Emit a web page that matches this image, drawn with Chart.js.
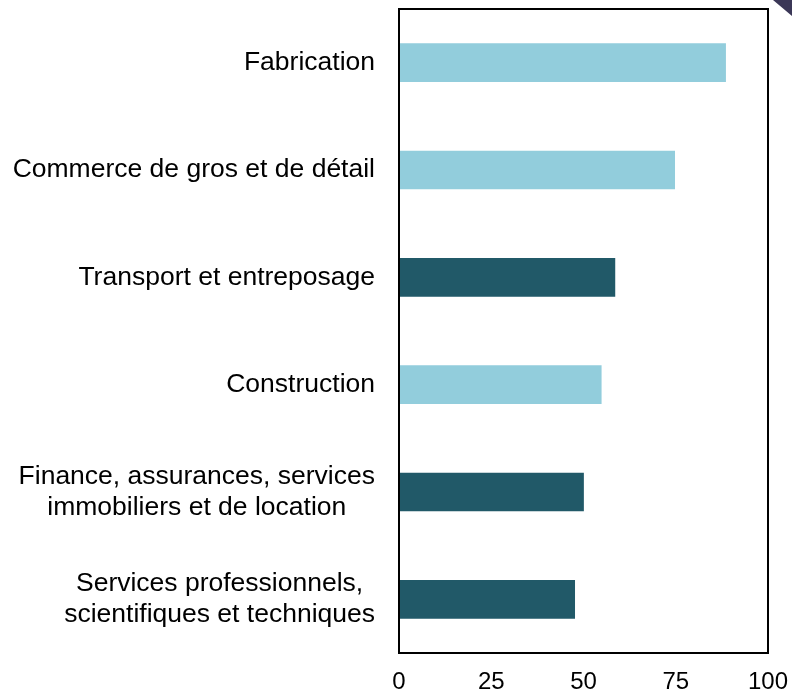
<!DOCTYPE html>
<html>
<head>
<meta charset="utf-8">
<script src="https://cdn.jsdelivr.net/npm/chart.js@4.4.1/dist/chart.umd.min.js"></script>
<style>
  html, body { margin: 0; padding: 0; background: #fff; }
  #wrap { position: relative; width: 792px; height: 692px; }
  #corner {
    position: absolute; right: 0; top: 0; width: 19px; height: 16px;
    background: #3b3757; clip-path: polygon(0 0, 100% 0, 100% 100%);
  }
</style>
</head>
<body>
<div id="wrap">
  <canvas id="sectorChart"></canvas>
  <div id="corner"></div>
</div>
<script>
const categories = [
    'Fabrication',
    'Commerce de gros et de détail',
    'Transport et entreposage',
    'Construction',
    ['Finance, assurances, services', 'immobiliers et de location'],
    ['Services professionnels,', 'scientifiques et techniques']
];
const values = [88.6, 74.8, 58.6, 54.9, 50.1, 47.7];
const highlighted = [false, false, true, false, true, true];
const xTicks = [0, 25, 50, 75, 100];

const LIGHT = '#92cddc';
const DARK = '#215968';
const LABEL_FONT = '26.5px "Liberation Sans", Arial, sans-serif';
const LABEL_LINE = 31.5;

// y labels: block right-aligned, lines centered inside the block
const labelPlugin = {
    id: 'centeredLabels',
    afterDraw(chart) {
        const ctx = chart.ctx;
        const y = chart.scales.y;
        ctx.save();
        ctx.font = LABEL_FONT;
        ctx.fillStyle = '#000';
        ctx.textAlign = 'center';
        ctx.textBaseline = 'middle';
        categories.forEach((cat, i) => {
            const lines = [].concat(cat);
            const w = Math.max(...lines.map(l => ctx.measureText(l).width));
            const cx = y.right - 24 - w / 2;
            const cy = y.getPixelForValue(i);
            lines.forEach((l, j) => {
                ctx.fillText(l, cx, cy + (j - (lines.length - 1) / 2) * LABEL_LINE);
            });
        });
        ctx.restore();
    }
};

const boxPlugin = {
    id: 'plotBox',
    afterDatasetsDraw(chart) {
        const { ctx, chartArea: a } = chart;
        ctx.save();
        ctx.strokeStyle = '#000';
        ctx.lineWidth = 2;
        ctx.strokeRect(a.left, a.top, a.right - a.left, a.bottom - a.top);
        ctx.restore();
    }
};

const ctx = document.getElementById('sectorChart').getContext('2d');
new Chart(ctx, {
    type: 'bar',
    data: {
        labels: categories,
        datasets: [{
            data: values,
            backgroundColor: highlighted.map(h => h ? DARK : LIGHT),
            borderWidth: 0,
            categoryPercentage: 1,
            barPercentage: 0.36
        }]
    },
    options: {
        indexAxis: 'y',
        responsive: true,
        maintainAspectRatio: false,
        animation: false,
        layout: { padding: { top: 9, right: 24, bottom: 0, left: 0 } },
        plugins: {
            legend: { display: false },
            tooltip: { enabled: false }
        },
        scales: {
            x: {
                min: 0,
                max: 100,
                afterBuildTicks(scale) {
                    scale.ticks = xTicks.map(v => ({ value: v }));
                },
                afterFit(scale) {
                    scale.height = 39;
                    scale.paddingLeft = 0;
                    scale.paddingRight = 0;
                },
                grid: { display: false, drawTicks: false },
                border: { display: false },
                ticks: {
                    color: '#000',
                    padding: 15,
                    font: { family: '"Liberation Sans", Arial, sans-serif', size: 24 }
                }
            },
            y: {
                grid: { display: false, drawTicks: false },
                border: { display: false },
                afterFit(scale) {
                    scale.width = 399;
                    scale.paddingTop = 0;
                    scale.paddingBottom = 0;
                },
                ticks: {
                    color: 'transparent',
                    font: { family: '"Liberation Sans", Arial, sans-serif', size: 25 }
                }
            }
        }
    },
    plugins: [labelPlugin, boxPlugin]
});
</script>
</body>
</html>
